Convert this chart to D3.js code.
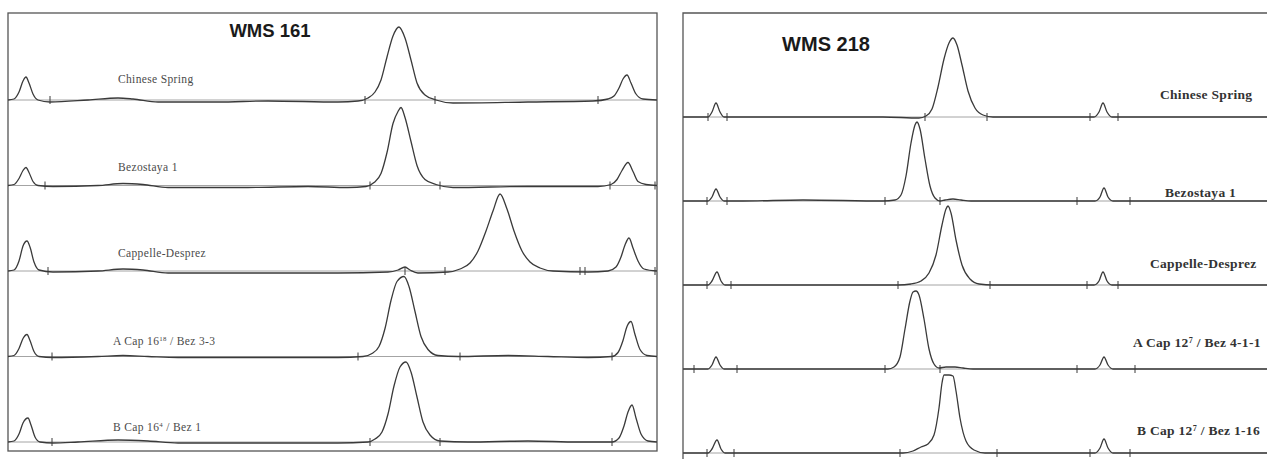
<!DOCTYPE html>
<html><head><meta charset="utf-8">
<script src="https://cdn.jsdelivr.net/npm/d3@7"></script>
<style>body{margin:0;background:#fff}svg{display:block}</style>
</head><body>
<script>
// ---------- DATA ----------
const panelTitles = ["WMS 161", "WMS 218"];

// lane labels: [main text, superscript, rest]
const lanes161 = [["Chinese Spring","",""],["Bezostaya 1","",""],["Cappelle-Desprez","",""],["A Cap 16","18"," / Bez 3-3"],["B Cap 16","4"," / Bez 1"]];
const lanes218 = [["Chinese Spring","",""],["Bezostaya 1","",""],["Cappelle-Desprez","",""],["A Cap 12","7"," / Bez 4-1-1"],["B Cap 12","7"," / Bez 1-16"]];

// traces: [scan position, signal]
const trace161 = [
  [[0,0],[6,1],[11,8],[15,19],[18,23],[21,17],[25,6],[30,0],[42,-2],[80,0],[110,2],[125,1],[150,-2],[210,-2],[260,-1],[330,-2],[350,-1],[360,2],[367,8],[373,20],[379,43],[385,64],[391,73],[397,62],[403,40],[409,17],[417,5],[428,0],[445,-3],[520,-2],[585,-1],[600,1],[606,4],[611,12],[615,21],[619,25],[623,17],[628,6],[635,1],[649,0]],
  [[0,0],[6,1],[11,7],[15,15],[18,18],[21,13],[25,4],[30,0],[45,-1],[90,0],[115,2],[135,1],[160,-2],[240,-2],[300,-1],[340,-2],[358,-1],[366,3],[373,12],[379,33],[385,62],[390,74],[393,78],[397,68],[403,44],[409,20],[417,6],[428,1],[445,-2],[520,-1],[590,-1],[603,1],[609,6],[614,15],[620,23],[625,14],[630,4],[638,1],[649,0]],
  [[0,0],[6,1],[11,10],[15,25],[19,30],[22,24],[26,9],[31,1],[45,-1],[90,0],[115,2],[135,1],[160,-2],[250,-2],[330,-2],[380,-1],[390,1],[397,4],[402,1],[410,-2],[440,-1],[452,2],[462,8],[470,20],[478,40],[485,60],[492,77],[499,62],[506,40],[514,20],[522,9],[532,3],[545,0],[580,-1],[600,0],[608,4],[613,14],[617,26],[621,33],[625,23],[630,10],[636,2],[649,0]],
  [[0,0],[6,1],[11,8],[15,18],[19,22],[22,16],[26,5],[31,0],[45,-1],[90,0],[115,1],[140,0],[170,-1],[250,-1],[330,-1],[355,0],[364,3],[371,10],[377,28],[383,56],[389,75],[396,80],[401,70],[407,45],[413,20],[420,7],[430,1],[450,0],[500,1],[540,0],[580,-1],[604,0],[610,4],[615,16],[619,30],[623,35],[627,22],[632,7],[639,1],[649,0]],
  [[0,0],[6,1],[11,8],[15,19],[20,24],[23,17],[27,5],[32,0],[45,-1],[70,0],[110,2],[140,1],[170,-1],[250,-1],[330,-1],[360,0],[367,3],[374,10],[380,28],[386,56],[392,75],[398,80],[403,70],[409,45],[415,20],[422,7],[432,1],[460,0],[520,1],[570,0],[604,0],[611,4],[616,16],[620,30],[624,37],[628,24],[633,8],[640,1],[649,0]]
];
const ticks161 = [[42,357,427,590],[37,362,432,602,647],[40,397,437,572,577,647],[44,350,452,604],[44,362,432,604]];

const trace218 = [
  [[0,0],[15,0],[25,0],[29,5],[33,14],[37,5],[41,0],[60,0],[120,0],[200,0],[236,-1],[243,1],[249,8],[255,30],[261,58],[266,74],[270,79],[274,72],[279,52],[285,26],[292,9],[300,2],[310,0],[380,0],[411,0],[416,5],[420,14],[424,5],[429,0],[480,0],[590,0]],
  [[0,0],[15,0],[25,0],[29,4],[33,12],[37,4],[41,0],[60,0],[120,1],[200,0],[212,1],[218,6],[223,25],[228,58],[232,76],[234,79],[237,72],[242,42],[247,15],[252,3],[257,0],[262,1],[270,2],[278,1],[288,0],[380,0],[412,0],[417,4],[421,13],[425,4],[430,0],[480,0],[590,0]],
  [[0,0],[15,0],[25,0],[29,4],[34,13],[38,4],[42,0],[60,0],[150,0],[215,0],[228,1],[238,4],[246,12],[253,30],[259,60],[263,76],[265,79],[268,72],[273,45],[279,20],[287,6],[296,1],[310,0],[380,0],[411,0],[416,4],[420,13],[424,4],[429,0],[480,0],[590,0]],
  [[0,0],[15,0],[25,0],[29,4],[33,12],[37,4],[41,0],[60,0],[150,0],[205,0],[211,2],[217,12],[222,40],[227,68],[230,77],[233,78],[236,74],[241,50],[246,20],[251,5],[256,1],[263,2],[272,2],[280,1],[290,0],[380,0],[412,0],[417,4],[421,12],[425,4],[430,0],[480,0],[590,0]],
  [[0,0],[15,0],[25,0],[29,4],[34,13],[38,4],[42,0],[60,0],[150,0],[220,0],[230,2],[238,6],[245,9],[251,18],[256,45],[259,70],[261,78],[266,78],[270,77],[273,62],[277,35],[283,12],[291,3],[302,0],[380,0],[412,0],[417,5],[421,14],[425,5],[430,0],[480,0],[590,0]]
];
const ticks218 = [[25,44,242,304,407,435],[24,44,202,257,394,447],[24,48,215,307,404,435],[11,54,202,257,394,452],[24,51,217,314,407,447]];

// ---------- LAYOUT ----------
const W = 1267, H = 459;
const svg = d3.select("body").append("svg").attr("width", W).attr("height", H);
const ink = "#3a3a3a";

const panels = [
  {title: panelTitles[0], lanes: lanes161, traces: trace161, ticks: ticks161,
   dom: [0, 650], xr: [8, 658], yr: [100, 442], frame: [8, 13, 657, 451],
   titleX: 270, titleY: 37, titleSize: 18.5,
   labelX: [110, 110, 110, 105, 105], labelDy: [-17, -15, -14, -12, -11], labelSize: 11.5, labelSpacing: 0.35, labelWeight: "normal", labelColor: "#4a4a4a"},
  {title: panelTitles[1], lanes: lanes218, traces: trace218, ticks: ticks218,
   dom: [0, 590], xr: [683, 1273], yr: [117, 453], frame: null,
   titleX: 826, titleY: 51, titleSize: 20,
   labelX: [477, 482, 467, 450, 454], labelDy: [-18, -4, -17, -22, -18], labelSize: 13.5, labelSpacing: 0.3, labelWeight: "bold", labelColor: "#333"}
];

const amp = d3.scaleLinear().domain([0, 100]).range([0, 100]);

panels.forEach((p, pi) => {
  const g = svg.append("g");
  const x = d3.scaleLinear().domain(p.dom).range(p.xr);
  const lane = d3.scaleLinear().domain([0, p.lanes.length - 1]).range(p.yr);

  // frame
  if (p.frame) {
    const [x0, y0, x1, y1] = p.frame;
    g.append("rect").attr("x", x0).attr("y", y0).attr("width", x1 - x0).attr("height", y1 - y0)
      .attr("fill", "none").attr("stroke", "#555").attr("stroke-width", 1.3);
  } else {
    g.append("path").attr("d", `M${p.xr[0]},${H}V13H${W}`).attr("fill", "none")
      .attr("stroke", "#555").attr("stroke-width", 1.3);
  }

  g.append("text").attr("x", p.titleX).attr("y", p.titleY).attr("text-anchor", "middle")
    .attr("font-family", "Liberation Sans, Arial, sans-serif").attr("font-weight", "bold")
    .attr("font-size", p.titleSize).attr("fill", "#1a1a1a").text(p.title);

  p.traces.forEach((tr, li) => {
    const base = lane(li);
    const line = d3.line().x(d => x(d[0])).y(d => base - amp(d[1])).curve(d3.curveMonotoneX);
    // integration baseline
    g.append("line").attr("x1", x(p.dom[0])).attr("x2", x(p.dom[1])).attr("y1", base).attr("y2", base)
      .attr("stroke", "#9a9a9a").attr("stroke-width", 0.9);
    // trace
    g.append("path").datum(tr).attr("d", line).attr("fill", "none")
      .attr("stroke", ink).attr("stroke-width", 1.3).attr("stroke-linejoin", "round");
    // tick marks
    g.selectAll(null).data(p.ticks[li]).enter().append("line")
      .attr("x1", d => x(d)).attr("x2", d => x(d)).attr("y1", base - 4).attr("y2", base + 4)
      .attr("stroke", ink).attr("stroke-width", 1);
    // label
    const lab = p.lanes[li];
    const t = g.append("text").attr("x", x(p.labelX[li])).attr("y", base + p.labelDy[li])
      .attr("font-family", "Liberation Serif, Times New Roman, serif")
      .attr("letter-spacing", p.labelSpacing)
      .attr("font-size", p.labelSize).attr("font-weight", p.labelWeight).attr("fill", p.labelColor);
    t.append("tspan").text(lab[0]);
    if (lab[1]) t.append("tspan").attr("dy", -4).attr("font-size", p.labelSize * 0.6).text(lab[1]);
    if (lab[2]) t.append("tspan").attr("dy", lab[1] ? 4 : 0).text(lab[2]);
  });
});
</script>
</body></html>
